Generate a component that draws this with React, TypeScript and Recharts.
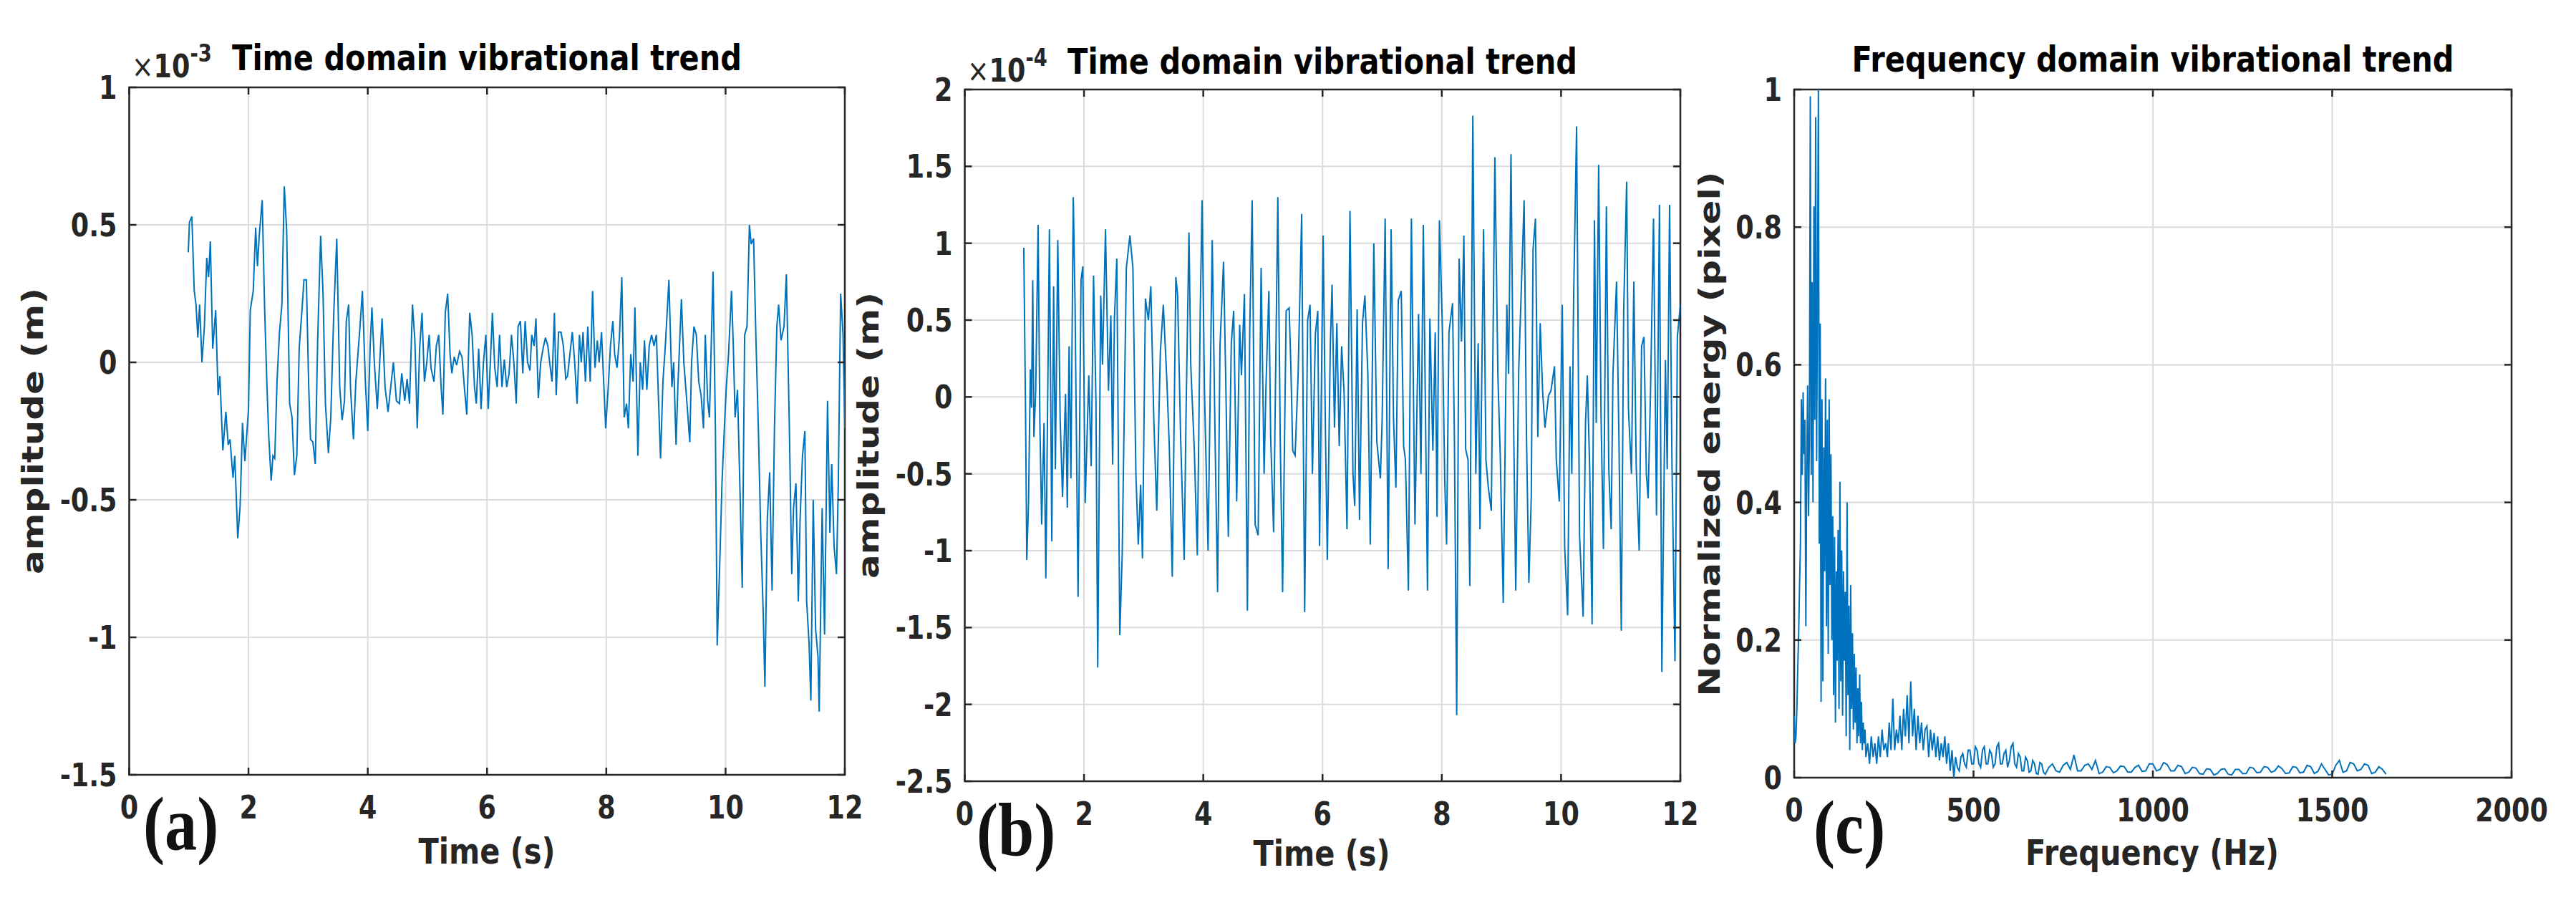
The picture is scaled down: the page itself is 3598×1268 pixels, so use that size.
import React from 'react';
import { LineChart, Line, XAxis, YAxis, CartesianGrid, ReferenceArea } from 'recharts';

// ---------- Panel (a): time domain, amplitude x1e-3 m ----------
const timeA = [
  0.99,1.01,1.05,1.09,1.12,1.15,1.18,1.22,1.26,1.30,
  1.33,1.36,1.40,1.45,1.49,1.52,1.57,1.62,1.66,1.69,
  1.74,1.77,1.82,1.86,1.90,1.94,2.00,2.03,2.08,2.12,
  2.15,2.18,2.23,2.27,2.31,2.34,2.38,2.41,2.44,2.48,
  2.52,2.56,2.60,2.64,2.69,2.73,2.77,2.81,2.85,2.90,
  2.93,2.97,3.01,3.04,3.08,3.12,3.16,3.21,3.25,3.29,
  3.34,3.38,3.43,3.48,3.53,3.57,3.61,3.64,3.68,3.71,
  3.76,3.80,3.87,3.91,3.96,4.00,4.04,4.07,4.11,4.16,
  4.20,4.24,4.29,4.34,4.38,4.43,4.48,4.53,4.57,4.62,
  4.66,4.70,4.75,4.79,4.83,4.87,4.91,4.95,4.99,5.03,
  5.06,5.11,5.15,5.19,5.23,5.26,5.30,5.34,5.38,5.41,
  5.45,5.49,5.54,5.58,5.62,5.66,5.71,5.75,5.79,5.82,
  5.86,5.90,5.94,5.98,6.02,6.06,6.09,6.13,6.17,6.21,
  6.25,6.29,6.33,6.37,6.41,6.45,6.49,6.52,6.56,6.60,
  6.64,6.68,6.72,6.75,6.79,6.82,6.86,6.90,6.94,6.98,
  7.02,7.05,7.09,7.13,7.16,7.20,7.24,7.28,7.32,7.35,
  7.39,7.43,7.47,7.51,7.55,7.58,7.61,7.65,7.69,7.73,
  7.77,7.81,7.85,7.88,7.92,7.96,7.99,8.03,8.07,8.11,
  8.14,8.18,8.22,8.26,8.30,8.34,8.37,8.41,8.45,8.48,
  8.53,8.57,8.61,8.64,8.68,8.72,8.76,8.80,8.84,8.87,
  8.91,8.95,8.99,9.05,9.10,9.13,9.17,9.20,9.26,9.30,
  9.36,9.40,9.43,9.47,9.51,9.55,9.59,9.63,9.66,9.70,
  9.73,9.79,9.83,9.86,9.90,9.94,9.98,10.01,10.05,10.10,
  10.13,10.16,10.20,10.24,10.28,10.32,10.36,10.40,10.43,10.47,
  10.51,10.55,10.59,10.63,10.66,10.70,10.74,10.78,10.82,10.86,
  10.89,10.93,10.98,11.02,11.07,11.11,11.14,11.18,11.22,11.25,
  11.29,11.33,11.36,11.40,11.43,11.47,11.51,11.55,11.57,11.62,
  11.66,11.71,11.75,11.78,11.82,11.86,11.89,11.93,11.97,12.00,
];
const ampA = [
  0.40,0.51,0.53,0.26,0.21,0.09,0.21,0.00,0.13,0.38,
  0.31,0.44,0.05,0.19,-0.12,-0.05,-0.32,-0.18,-0.30,-0.28,
  -0.42,-0.34,-0.64,-0.52,-0.22,-0.36,-0.17,0.19,0.26,0.49,
  0.35,0.46,0.59,0.20,-0.09,-0.27,-0.43,-0.34,-0.35,-0.06,
  0.11,0.21,0.64,0.48,-0.15,-0.20,-0.41,-0.34,0.05,0.20,
  0.30,0.30,-0.09,-0.28,-0.29,-0.37,0.08,0.46,0.25,-0.15,
  -0.33,-0.20,0.18,0.45,-0.09,-0.21,-0.14,0.15,0.21,-0.09,
  -0.28,-0.07,0.13,0.26,-0.07,-0.25,0.06,0.20,0.00,-0.17,
  0.00,0.16,-0.09,-0.18,-0.10,0.00,-0.14,-0.15,-0.04,-0.14,
  -0.06,-0.15,0.21,0.08,-0.24,0.05,0.18,-0.07,0.00,0.10,
  -0.02,-0.07,0.06,0.10,-0.09,-0.19,0.18,0.25,0.03,-0.04,
  0.02,-0.01,0.04,0.02,-0.09,-0.19,0.18,0.10,-0.09,-0.15,
  0.05,-0.17,0.00,0.10,-0.17,0.02,0.18,-0.02,-0.09,0.10,
  -0.09,0.01,-0.09,-0.04,0.10,0.00,-0.15,0.13,0.15,-0.04,
  0.15,0.00,-0.03,0.10,0.06,0.16,-0.13,0.00,0.05,0.09,
  0.06,0.00,-0.07,0.18,-0.12,0.11,0.11,0.06,-0.06,-0.05,
  0.03,0.11,0.00,-0.15,0.10,0.00,0.11,-0.07,0.13,-0.07,
  0.26,-0.02,0.08,0.00,0.11,-0.09,-0.24,-0.10,0.06,0.15,
  0.03,-0.02,0.09,0.31,-0.20,-0.15,-0.24,0.03,-0.07,0.20,
  -0.34,0.00,-0.10,0.08,-0.10,0.06,0.10,0.06,0.10,-0.10,
  -0.35,-0.07,0.06,0.30,-0.09,0.00,-0.30,-0.09,0.23,0.00,
  -0.17,-0.29,0.00,0.13,0.10,-0.07,-0.12,-0.24,0.10,-0.14,
  -0.20,0.33,-0.24,-1.03,-0.75,-0.44,-0.24,-0.10,0.03,0.26,
  0.06,-0.20,-0.10,-0.45,-0.82,0.10,0.13,0.50,0.43,0.45,
  0.08,-0.24,-0.62,-0.90,-1.18,-0.57,-0.40,-0.83,-0.24,0.13,
  0.21,0.08,0.13,0.32,-0.24,-0.77,-0.53,-0.44,-0.87,-0.57,
  -0.34,-0.25,-0.87,-1.02,-1.23,-0.50,-0.97,-1.07,-1.27,-0.53,
  -0.99,-0.14,-0.62,-0.37,-0.67,-0.77,-0.45,0.25,0.10,-0.24,
];

// ---------- Panel (b): time domain, amplitude x1e-4 m ----------
const timeB = [
  0.99,1.02,1.04,1.07,1.10,1.12,1.14,1.16,1.19,1.23,
  1.26,1.29,1.33,1.36,1.42,1.46,1.49,1.52,1.56,1.60,
  1.64,1.69,1.72,1.75,1.78,1.82,1.85,1.90,1.95,1.98,
  2.02,2.08,2.12,2.16,2.20,2.23,2.28,2.31,2.36,2.41,
  2.45,2.48,2.51,2.55,2.60,2.64,2.71,2.77,2.82,2.87,
  2.91,2.95,2.98,3.03,3.08,3.12,3.17,3.22,3.28,3.33,
  3.39,3.43,3.48,3.54,3.57,3.62,3.68,3.71,3.76,3.79,
  3.85,3.90,3.95,3.98,4.02,4.08,4.15,4.20,4.24,4.28,
  4.34,4.38,4.42,4.47,4.51,4.56,4.61,4.64,4.69,4.74,
  4.78,4.82,4.87,4.92,4.97,5.02,5.05,5.10,5.13,5.18,
  5.25,5.29,5.33,5.39,5.44,5.47,5.50,5.54,5.59,5.65,
  5.70,5.75,5.79,5.83,5.88,5.92,5.95,6.01,6.05,6.08,
  6.13,6.16,6.20,6.24,6.28,6.32,6.36,6.41,6.46,6.51,
  6.54,6.58,6.62,6.67,6.71,6.76,6.80,6.86,6.91,6.97,
  7.00,7.05,7.10,7.15,7.19,7.23,7.27,7.32,7.36,7.39,
  7.44,7.49,7.55,7.61,7.65,7.69,7.76,7.80,7.85,7.89,
  7.92,7.96,8.01,8.05,8.08,8.12,8.18,8.21,8.25,8.29,
  8.33,8.37,8.40,8.44,8.47,8.52,8.57,8.61,8.64,8.70,
  8.74,8.78,8.83,8.89,8.94,8.98,9.03,9.09,9.12,9.16,
  9.20,9.24,9.29,9.33,9.38,9.42,9.46,9.50,9.53,9.57,
  9.61,9.65,9.69,9.73,9.79,9.83,9.89,9.92,9.97,10.02,
  10.06,10.11,10.15,10.18,10.21,10.26,10.31,10.37,10.41,10.44,
  10.48,10.52,10.56,10.59,10.63,10.67,10.71,10.76,10.80,10.84,
  10.87,10.93,10.97,11.01,11.05,11.10,11.13,11.18,11.22,11.26,
  11.31,11.35,11.39,11.43,11.46,11.50,11.55,11.60,11.65,11.69,
  11.75,11.78,11.82,11.86,11.91,11.95,12.00,
];
const ampB = [
  0.97,-0.11,-1.06,-0.68,0.18,-0.07,0.76,-0.26,0.04,1.12,
  -0.17,-0.83,-0.17,-1.18,1.09,-0.94,0.72,-0.47,1.02,-0.14,
  -0.65,0.02,-0.72,0.33,-0.53,1.30,0.60,-1.30,0.76,0.85,
  -0.69,0.14,-0.45,0.79,-0.02,-1.76,0.66,0.21,1.09,0.04,
  0.53,-0.44,0.51,0.90,-1.55,-1.03,0.84,1.05,0.84,-0.50,
  -0.96,-0.57,-1.05,0.64,0.50,0.72,-0.14,-0.74,0.29,0.60,
  0.10,-0.32,-1.17,0.78,0.66,-0.26,-1.06,-0.14,1.07,0.21,
  -0.35,-1.03,0.58,1.28,0.04,-1.00,1.02,-0.32,-1.27,0.33,
  0.88,0.04,-0.91,0.35,0.56,-0.68,0.47,0.14,0.67,-1.39,
  0.45,1.28,-0.83,-0.90,0.84,-0.50,0.05,0.69,-0.26,-0.88,
  1.30,-0.26,-1.27,0.56,0.58,0.18,-0.35,-0.38,0.14,1.19,
  -1.40,0.50,0.60,-0.50,0.41,0.56,-0.97,1.05,-0.26,-1.06,
  0.33,0.73,-0.20,0.48,-0.32,0.33,0.04,-0.86,1.21,-0.50,
  -0.71,0.57,-0.80,0.48,0.66,0.15,-0.96,1.00,-0.29,-0.53,
  -0.14,1.16,-1.12,1.09,-0.14,-0.59,0.63,0.69,-0.32,-0.41,
  -1.26,1.16,-0.83,0.54,-0.50,1.12,-1.26,0.51,-0.35,0.42,
  -0.78,1.15,0.45,-0.56,-0.96,0.42,0.61,-0.23,-2.07,0.90,
  0.36,1.05,-0.34,-0.41,-1.23,1.83,-0.50,0.35,-0.86,1.09,
  -0.41,-0.59,-0.74,1.56,0.15,-0.38,-1.34,0.60,0.15,1.58,
  -0.05,-1.26,0.18,0.66,1.28,-0.26,-1.21,-0.65,0.96,1.16,
  -0.26,0.48,0.04,-0.20,0.01,0.04,0.20,-0.41,-0.68,0.60,
  -0.97,-1.42,0.20,-0.50,0.63,1.76,-0.90,-1.43,-0.17,0.14,
  -0.47,-1.48,1.15,-0.17,1.51,-0.11,-0.99,1.24,-0.47,-0.86,
  0.15,0.75,-0.26,-1.52,0.56,1.40,-0.08,-0.50,0.75,-0.45,
  -1.00,0.33,0.39,-0.50,-0.66,0.04,1.16,-0.77,1.25,-1.79,
  0.24,-0.47,1.25,-0.44,-1.72,0.39,0.60,
];

// ---------- Panel (c): frequency domain, normalized energy ----------
const freqC = [
  0,2.5,5,7.5,10,12.5,15,17.5,20,22.5,
  25,27.5,30,32.5,35,37.5,40,42.5,45,47.5,
  50,52.5,55,57.5,60,62.5,65,67.5,70,72.5,
  75,77.5,80,82.5,85,87.5,90,92.5,95,97.5,
  100,102.5,105,107.5,110,112.5,115,117.5,120,122.5,
  125,127.5,130,132.5,135,137.5,140,142.5,145,147.5,
  150,152.5,155,157.5,160,162.5,165,167.5,170,172.5,
  175,177.5,180,182.5,185,187.5,190,192.5,195,197.5,
  200,205,210,215,220,225,230,235,240,245,
  250,255,260,265,270,275,280,285,290,295,
  300,305,310,315,320,325,330,335,340,345,
  350,355,360,365,370,375,380,385,390,395,
  400,405,410,415,420,425,430,435,440,445,
  450,455,460,465,470,475,480,485,490,495,
  500,505,510,515,520,525,530,535,540,545,
  550,555,560,565,570,575,580,585,590,595,
  600,605,610,615,620,625,630,635,640,645,
  650,655,660,665,670,675,680,685,690,695,
  700,710,720,730,740,750,760,770,780,790,
  800,810,820,830,840,850,860,870,880,890,
  900,910,920,930,940,950,960,970,980,990,
  1000,1010,1020,1030,1040,1050,1060,1070,1080,1090,
  1100,1110,1120,1130,1140,1150,1160,1170,1180,1190,
  1200,1210,1220,1230,1240,1250,1260,1270,1280,1290,
  1300,1310,1320,1330,1340,1350,1360,1370,1380,1390,
  1400,1410,1420,1430,1440,1450,1460,1470,1480,1490,
  1500,1510,1520,1530,1540,1550,1560,1570,1580,1590,
  1600,1610,1620,1630,1640,1650,
];
const energyC = [
  0.09,0.05,0.06,0.10,0.16,0.21,0.28,0.34,0.55,0.44,
  0.56,0.47,0.52,0.22,0.45,0.57,0.38,0.50,0.99,0.44,
  0.72,0.40,0.83,0.52,0.96,0.46,0.70,1.00,0.34,0.66,
  0.11,0.55,0.14,0.48,0.30,0.58,0.22,0.52,0.18,0.55,
  0.28,0.47,0.20,0.38,0.12,0.35,0.08,0.30,0.17,0.36,
  0.10,0.43,0.14,0.33,0.09,0.30,0.17,0.27,0.06,0.40,
  0.12,0.25,0.04,0.28,0.10,0.21,0.07,0.18,0.08,0.16,
  0.05,0.13,0.06,0.15,0.05,0.11,0.04,0.08,0.05,0.07,
  0.03,0.05,0.02,0.06,0.03,0.05,0.02,0.06,0.03,0.07,
  0.04,0.05,0.03,0.08,0.04,0.115,0.04,0.07,0.05,0.09,
  0.04,0.10,0.06,0.12,0.05,0.14,0.06,0.10,0.04,0.09,
  0.05,0.08,0.04,0.07,0.075,0.03,0.07,0.04,0.065,0.03,
  0.06,0.025,0.05,0.03,0.06,0.02,0.05,0.01,0.04,0.00,
  0.03,0.015,0.01,0.03,0.035,0.02,0.015,0.04,0.04,0.02,
  0.02,0.045,0.04,0.02,0.015,0.04,0.045,0.02,0.02,0.04,
  0.035,0.015,0.02,0.045,0.05,0.02,0.02,0.035,0.04,0.015,
  0.025,0.045,0.05,0.02,0.015,0.035,0.03,0.01,0.01,0.03,
  0.025,0.008,0.01,0.025,0.02,0.006,0.005,0.022,0.02,0.008,
  0.005,0.015,0.02,0.01,0.008,0.018,0.022,0.012,0.033,0.01,
  0.01,0.018,0.02,0.012,0.025,0.006,0.008,0.016,0.015,0.007,
  0.01,0.017,0.016,0.008,0.008,0.015,0.018,0.009,0.01,0.02,
  0.02,0.01,0.012,0.022,0.019,0.01,0.01,0.018,0.016,0.006,
  0.008,0.015,0.014,0.006,0.005,0.013,0.012,0.004,0.006,0.012,
  0.013,0.005,0.004,0.012,0.012,0.006,0.006,0.015,0.014,0.007,
  0.008,0.016,0.015,0.008,0.01,0.017,0.013,0.006,0.007,0.016,
  0.015,0.007,0.008,0.018,0.016,0.006,0.009,0.02,0.012,0.004,
  0.005,0.018,0.025,0.008,0.01,0.022,0.02,0.01,0.012,0.02,
  0.018,0.006,0.008,0.016,0.012,0.005,
];

// ---------- Ticks ----------
const timeTicks = [0, 2, 4, 6, 8, 10, 12];
const ampATicks = [-1.5, -1, -0.5, 0, 0.5, 1];
const ampBTicks = [-2.5, -2, -1.5, -1, -0.5, 0, 0.5, 1, 1.5, 2];
const freqTicks = [0, 500, 1000, 1500, 2000];
const energyTicks = [0, 0.2, 0.4, 0.6, 0.8, 1];

// ---------- Style ----------
const W = 3598;
const H = 1268;
const FONT = "'DejaVu Sans', 'Noto Sans', sans-serif";
const SERIF = "'Liberation Serif', 'DejaVu Serif', serif";
const SQ = 0.83;
const AXIS = '#262626';
const BLUE = '#0072BD';
const GRID = '#dcdcdc';

type Frame = { left: number; right: number; top: number; bottom: number };

const frameA: Frame = { left: 180.5, right: 1180, top: 122, bottom: 1082 };
const frameB: Frame = { left: 1347.5, right: 2347, top: 125, bottom: 1091 };
const frameC: Frame = { left: 2506, right: 3508, top: 125, bottom: 1086 };

const makeYTick = (f: Frame) => (props: any) => {
  const { y, payload } = props;
  return (
    <g>
      <line x1={f.left} x2={f.left + 10} y1={y} y2={y} stroke={AXIS} strokeWidth={2.5} />
      <line x1={f.right - 10} x2={f.right} y1={y} y2={y} stroke={AXIS} strokeWidth={2.5} />
      <text
        transform={`translate(${f.left - 17},${y + 16}) scale(${SQ},1)`}
        textAnchor="end"
        fontFamily={FONT}
        fontWeight="bold"
        fontSize={44}
        fill={AXIS}
      >
        {String(payload.value)}
      </text>
    </g>
  );
};

const makeXTick = (f: Frame) => (props: any) => {
  const { x, payload } = props;
  return (
    <g>
      <line x1={x} x2={x} y1={f.bottom} y2={f.bottom - 10} stroke={AXIS} strokeWidth={2.5} />
      <line x1={x} x2={x} y1={f.top} y2={f.top + 10} stroke={AXIS} strokeWidth={2.5} />
      <text
        transform={`translate(${x},${f.bottom + 61}) scale(${SQ},1)`}
        textAnchor="middle"
        fontFamily={FONT}
        fontWeight="bold"
        fontSize={44}
        fill={AXIS}
      >
        {String(payload.value)}
      </text>
    </g>
  );
};

type PanelProps = {
  xs: number[];
  ys: number[];
  frame: Frame;
  xDomain: [number, number];
  yDomain: [number, number];
  xTicks: number[];
  yTicks: number[];
};

function Panel({ xs, ys, frame, xDomain, yDomain, xTicks, yTicks }: PanelProps) {
  const data = xs.map((x, i) => ({ x, y: ys[i] }));
  const yAxisW = 60;
  const xAxisH = 60;
  return (
    <div style={{ position: 'absolute', left: 0, top: 0 }}>
      <LineChart
        width={W}
        height={H}
        data={data}
        margin={{
          left: frame.left - yAxisW,
          right: W - frame.right,
          top: frame.top,
          bottom: H - frame.bottom - xAxisH,
        }}
      >
        <CartesianGrid stroke={GRID} strokeWidth={2} />
        <XAxis
          type="number"
          dataKey="x"
          domain={xDomain}
          ticks={xTicks}
          interval={0}
          allowDataOverflow
          height={xAxisH}
          axisLine={false}
          tickLine={false}
          tick={makeXTick(frame)}
        />
        <YAxis
          type="number"
          domain={yDomain}
          ticks={yTicks}
          interval={0}
          allowDataOverflow
          width={yAxisW}
          axisLine={false}
          tickLine={false}
          tick={makeYTick(frame)}
        />
        <Line
          type="linear"
          dataKey="y"
          stroke={BLUE}
          strokeWidth={2}
          dot={false}
          activeDot={false}
          isAnimationActive={false}
        />
        <ReferenceArea
          x1={xDomain[0]}
          x2={xDomain[1]}
          y1={yDomain[0]}
          y2={yDomain[1]}
          fill="none"
          fillOpacity={0}
          stroke={AXIS}
          strokeWidth={2.5}
          ifOverflow="visible"
        />
      </LineChart>
    </div>
  );
}

const sq = (x: number, y: number) => `translate(${x},${y}) scale(${SQ},1)`;

function Overlay() {
  const title = { fontFamily: FONT, fontWeight: 'bold' as const, fontSize: 50, fill: '#000' };
  const label = { fontFamily: FONT, fontWeight: 'bold' as const, fontSize: 50, fill: AXIS };
  const letter = { fontFamily: SERIF, fontWeight: 'bold' as const, fontSize: 105, fill: '#111' };
  return (
    <svg width={W} height={H} style={{ position: 'absolute', left: 0, top: 0, pointerEvents: 'none' }}>
      {/* titles */}
      <text transform={sq(680, 98)} textAnchor="middle" {...title}>Time domain vibrational trend</text>
      <text transform={sq(1847, 103)} textAnchor="middle" {...title}>Time domain vibrational trend</text>
      <text transform={sq(3007, 100)} textAnchor="middle" {...title}>Frequency domain vibrational trend</text>

      {/* exponent labels */}
      <text transform={sq(184, 108)} fontFamily={FONT} fontSize={44} fill={AXIS}>
        <tspan fontWeight="normal">×</tspan>
        <tspan fontWeight="bold">10</tspan>
        <tspan fontWeight="bold" fontSize={33} dy={-22}>-3</tspan>
      </text>
      <text transform={sq(1351, 114)} fontFamily={FONT} fontSize={44} fill={AXIS}>
        <tspan fontWeight="normal">×</tspan>
        <tspan fontWeight="bold">10</tspan>
        <tspan fontWeight="bold" fontSize={33} dy={-22}>-4</tspan>
      </text>

      {/* y labels */}
      <text transform={`translate(60,602) scale(${SQ},1) rotate(-90)`} textAnchor="middle" {...label}>amplitude (m)</text>
      <text transform={`translate(1227,608) scale(${SQ},1) rotate(-90)`} textAnchor="middle" {...label}>amplitude (m)</text>
      <text transform={`translate(2402,606) scale(${SQ},1) rotate(-90)`} textAnchor="middle" {...label}>Normalized energy (pixel)</text>

      {/* x labels */}
      <text transform={sq(680, 1206)} textAnchor="middle" {...label}>Time (s)</text>
      <text transform={sq(1846, 1209)} textAnchor="middle" {...label}>Time (s)</text>
      <text transform={sq(3006, 1208)} textAnchor="middle" {...label}>Frequency (Hz)</text>

      {/* panel letters */}
      <text transform={`translate(200,1186) scale(0.86,1)`} {...letter}>(a)</text>
      <text transform={`translate(1364,1195) scale(0.86,1)`} {...letter}>(b)</text>
      <text transform={`translate(2533,1191) scale(0.86,1)`} {...letter}>(c)</text>
    </svg>
  );
}

export default function App() {
  return (
    <div style={{ position: 'absolute', left: 0, top: 0, width: W, height: H, background: '#fff' }}>
      <Panel xs={timeA} ys={ampA} frame={frameA} xDomain={[0, 12]} yDomain={[-1.5, 1]} xTicks={timeTicks} yTicks={ampATicks} />
      <Panel xs={timeB} ys={ampB} frame={frameB} xDomain={[0, 12]} yDomain={[-2.5, 2]} xTicks={timeTicks} yTicks={ampBTicks} />
      <Panel xs={freqC} ys={energyC} frame={frameC} xDomain={[0, 2000]} yDomain={[0, 1]} xTicks={freqTicks} yTicks={energyTicks} />
      <Overlay />
    </div>
  );
}
